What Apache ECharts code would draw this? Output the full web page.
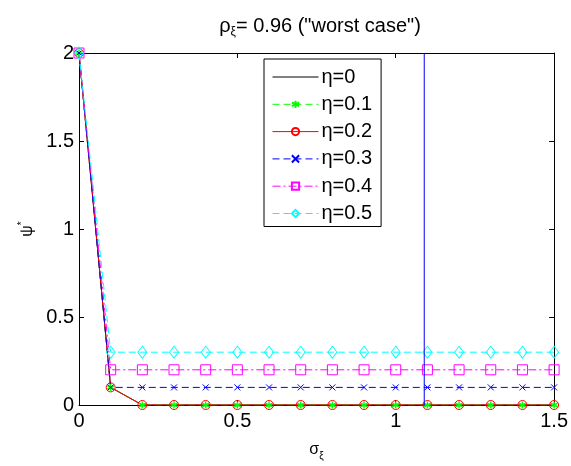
<!DOCTYPE html>
<html>
<head>
<meta charset="utf-8">
<script src="https://cdn.jsdelivr.net/npm/echarts@6/dist/echarts.min.js"></script>
<style>html,body{margin:0;padding:0;background:#fff}#c{width:571px;height:466px}</style>
</head>
<body>
<div id="c"></div>
<script>
const xValues = [0, 0.1, 0.2, 0.3, 0.4, 0.5, 0.6, 0.7, 0.8, 0.9, 1.0, 1.1, 1.2, 1.3, 1.4, 1.5];
const eta0  = [2, 0.1, 0, 0, 0, 0, 0, 0, 0, 0, 0, 0, 0, 0, 0, 0];
const eta01 = [2, 0.1, 0, 0, 0, 0, 0, 0, 0, 0, 0, 0, 0, 0, 0, 0];
const eta02 = [2, 0.1, 0, 0, 0, 0, 0, 0, 0, 0, 0, 0, 0, 0, 0, 0];
const eta03 = [2, 0.1, 0.1, 0.1, 0.1, 0.1, 0.1, 0.1, 0.1, 0.1, 0.1, 0.1, 0.1, 0.1, 0.1, 0.1];
const eta04 = [2, 0.2, 0.2, 0.2, 0.2, 0.2, 0.2, 0.2, 0.2, 0.2, 0.2, 0.2, 0.2, 0.2, 0.2, 0.2];
const eta05 = [2, 0.3, 0.3, 0.3, 0.3, 0.3, 0.3, 0.3, 0.3, 0.3, 0.3, 0.3, 0.3, 0.3, 0.3, 0.3];
const seriesNames = ['η=0', 'η=0.1', 'η=0.2', 'η=0.3', 'η=0.4', 'η=0.5'];
const vlineX = [1.09, 1.09];
const vlineY = [0, 2];

const pairs = arr => xValues.map((x, i) => [x, arr[i]]);
const F = 'Liberation Sans, Arial, sans-serif';
const asterisk = 'path://M0,-1L0,1M-0.87,-0.5L0.87,0.5M-0.87,0.5L0.87,-0.5';
const cross = 'path://M-1,-1L1,1M-1,1L1,-1';

const chart = echarts.init(document.getElementById('c'));
chart.setOption({
  animation: false,
  backgroundColor: '#fff',
  title: {
    text: '{r|ρ}{s|ξ}{t|= 0.96 ("worst case")}',
    left: 315, textAlign: 'center', top: 9,
    textStyle: {
      fontWeight: 'normal',
      rich: {
        r: {fontSize: 20, fontFamily: F, color: '#000', fontWeight: 'normal'},
        s: {fontSize: 12, fontFamily: F, color: '#000', fontWeight: 'normal', padding: [12, 0, 0, 0]},
        t: {fontSize: 20, fontFamily: F, color: '#000', fontWeight: 'normal'}
      }
    }
  },
  grid: {left: 79, right: 16, top: 53, bottom: 60},
  legend: {
    data: [
      {name: seriesNames[0], itemStyle: {opacity: 0}},
      seriesNames[1], seriesNames[2], seriesNames[3], seriesNames[4], seriesNames[5]
    ],
    orient: 'vertical',
    left: 264, top: 59,
    padding: [8, 9, 3, 8],
    itemWidth: 46, itemHeight: 9, itemGap: 7.3,
    lineStyle: {width: 1},
    backgroundColor: '#fff',
    borderColor: '#000', borderWidth: 1, borderRadius: 0,
    textStyle: {fontSize: 20, fontFamily: F, color: '#000', padding: [0, 0, 0, -2], lineHeight: 19}
  },
  xAxis: [{
    type: 'value', min: 0, max: 1.5, interval: 0.5,
    name: '{a|σ}{b|ξ}', nameLocation: 'middle', nameGap: 34,
    nameTextStyle: {rich: {a: {fontSize: 16, fontFamily: F, color: '#000'}, b: {fontSize: 10, fontFamily: F, color: '#000', padding: [12, 0, 0, 0]}}},
    axisLine: {show: true, lineStyle: {color: '#000', width: 1}},
    axisTick: {show: true, inside: true, length: 5, lineStyle: {color: '#000'}},
    axisLabel: {fontSize: 20, fontFamily: F, color: '#000', margin: 6},
    splitLine: {show: false}
  }, {
    type: 'value', min: 0, max: 1.5, interval: 0.5, position: 'top',
    axisLine: {show: true, onZero: false, lineStyle: {color: '#000', width: 1}},
    axisTick: {show: true, inside: true, length: 5, lineStyle: {color: '#000'}},
    axisLabel: {show: false}, splitLine: {show: false}
  }],
  yAxis: [{
    type: 'value', min: 0, max: 2, interval: 0.5,
    name: '{a|ψ}{b|*}', nameLocation: 'middle', nameGap: 40, nameRotate: 90,
    nameTextStyle: {rich: {a: {fontSize: 16, fontFamily: F, color: '#000'}, b: {fontSize: 10, fontFamily: F, color: '#000', padding: [0, 0, 10, 0]}}},
    axisLine: {show: true, lineStyle: {color: '#000', width: 1}},
    axisTick: {show: true, inside: true, length: 5, lineStyle: {color: '#000'}},
    axisLabel: {fontSize: 20, fontFamily: F, color: '#000', margin: 5},
    splitLine: {show: false}
  }, {
    type: 'value', min: 0, max: 2, interval: 0.5, position: 'right',
    axisLine: {show: true, onZero: false, lineStyle: {color: '#000', width: 1}},
    axisTick: {show: true, inside: true, length: 5, lineStyle: {color: '#000'}},
    axisLabel: {show: false}, splitLine: {show: false}
  }],
  series: [
    {name: seriesNames[0], type: 'line', data: pairs(eta0), showSymbol: false, symbol: 'none',
     lineStyle: {color: '#000', width: 1}, itemStyle: {color: '#000'}},
    {name: seriesNames[1], type: 'line', data: pairs(eta01), symbol: asterisk, symbolSize: 7,
     lineStyle: {color: '#00ff00', width: 1, type: [7, 4]},
     itemStyle: {color: 'none', borderColor: '#00ff00', borderWidth: 1.4}},
    {name: seriesNames[2], type: 'line', data: pairs(eta02), symbol: 'circle', symbolSize: 9,
     lineStyle: {color: '#ff0000', width: 1},
     itemStyle: {color: 'none', borderColor: '#ff0000', borderWidth: 1}},
    {name: seriesNames[3], type: 'line', data: pairs(eta03), symbol: cross, symbolSize: 6,
     lineStyle: {color: '#0000ff', width: 1, type: [7, 4]},
     itemStyle: {color: 'none', borderColor: '#0000ff', borderWidth: 1}},
    {name: seriesNames[4], type: 'line', data: pairs(eta04), symbol: 'rect', symbolSize: 10,
     lineStyle: {color: '#ff00ff', width: 1, type: [8, 3, 2, 3]},
     itemStyle: {color: 'none', borderColor: '#ff00ff', borderWidth: 1}},
    {name: seriesNames[5], type: 'line', data: pairs(eta05), symbol: 'diamond', symbolSize: [9, 12],
     lineStyle: {color: '#00ffff', width: 1, type: [7, 4]},
     itemStyle: {color: 'none', borderColor: '#00ffff', borderWidth: 1}},
    {name: 'vline', type: 'line', data: vlineX.map((x, i) => [x, vlineY[i]]), symbol: 'none',
     lineStyle: {color: '#0000ff', width: 1}, z: 5}
  ]
});
</script>
</body>
</html>
